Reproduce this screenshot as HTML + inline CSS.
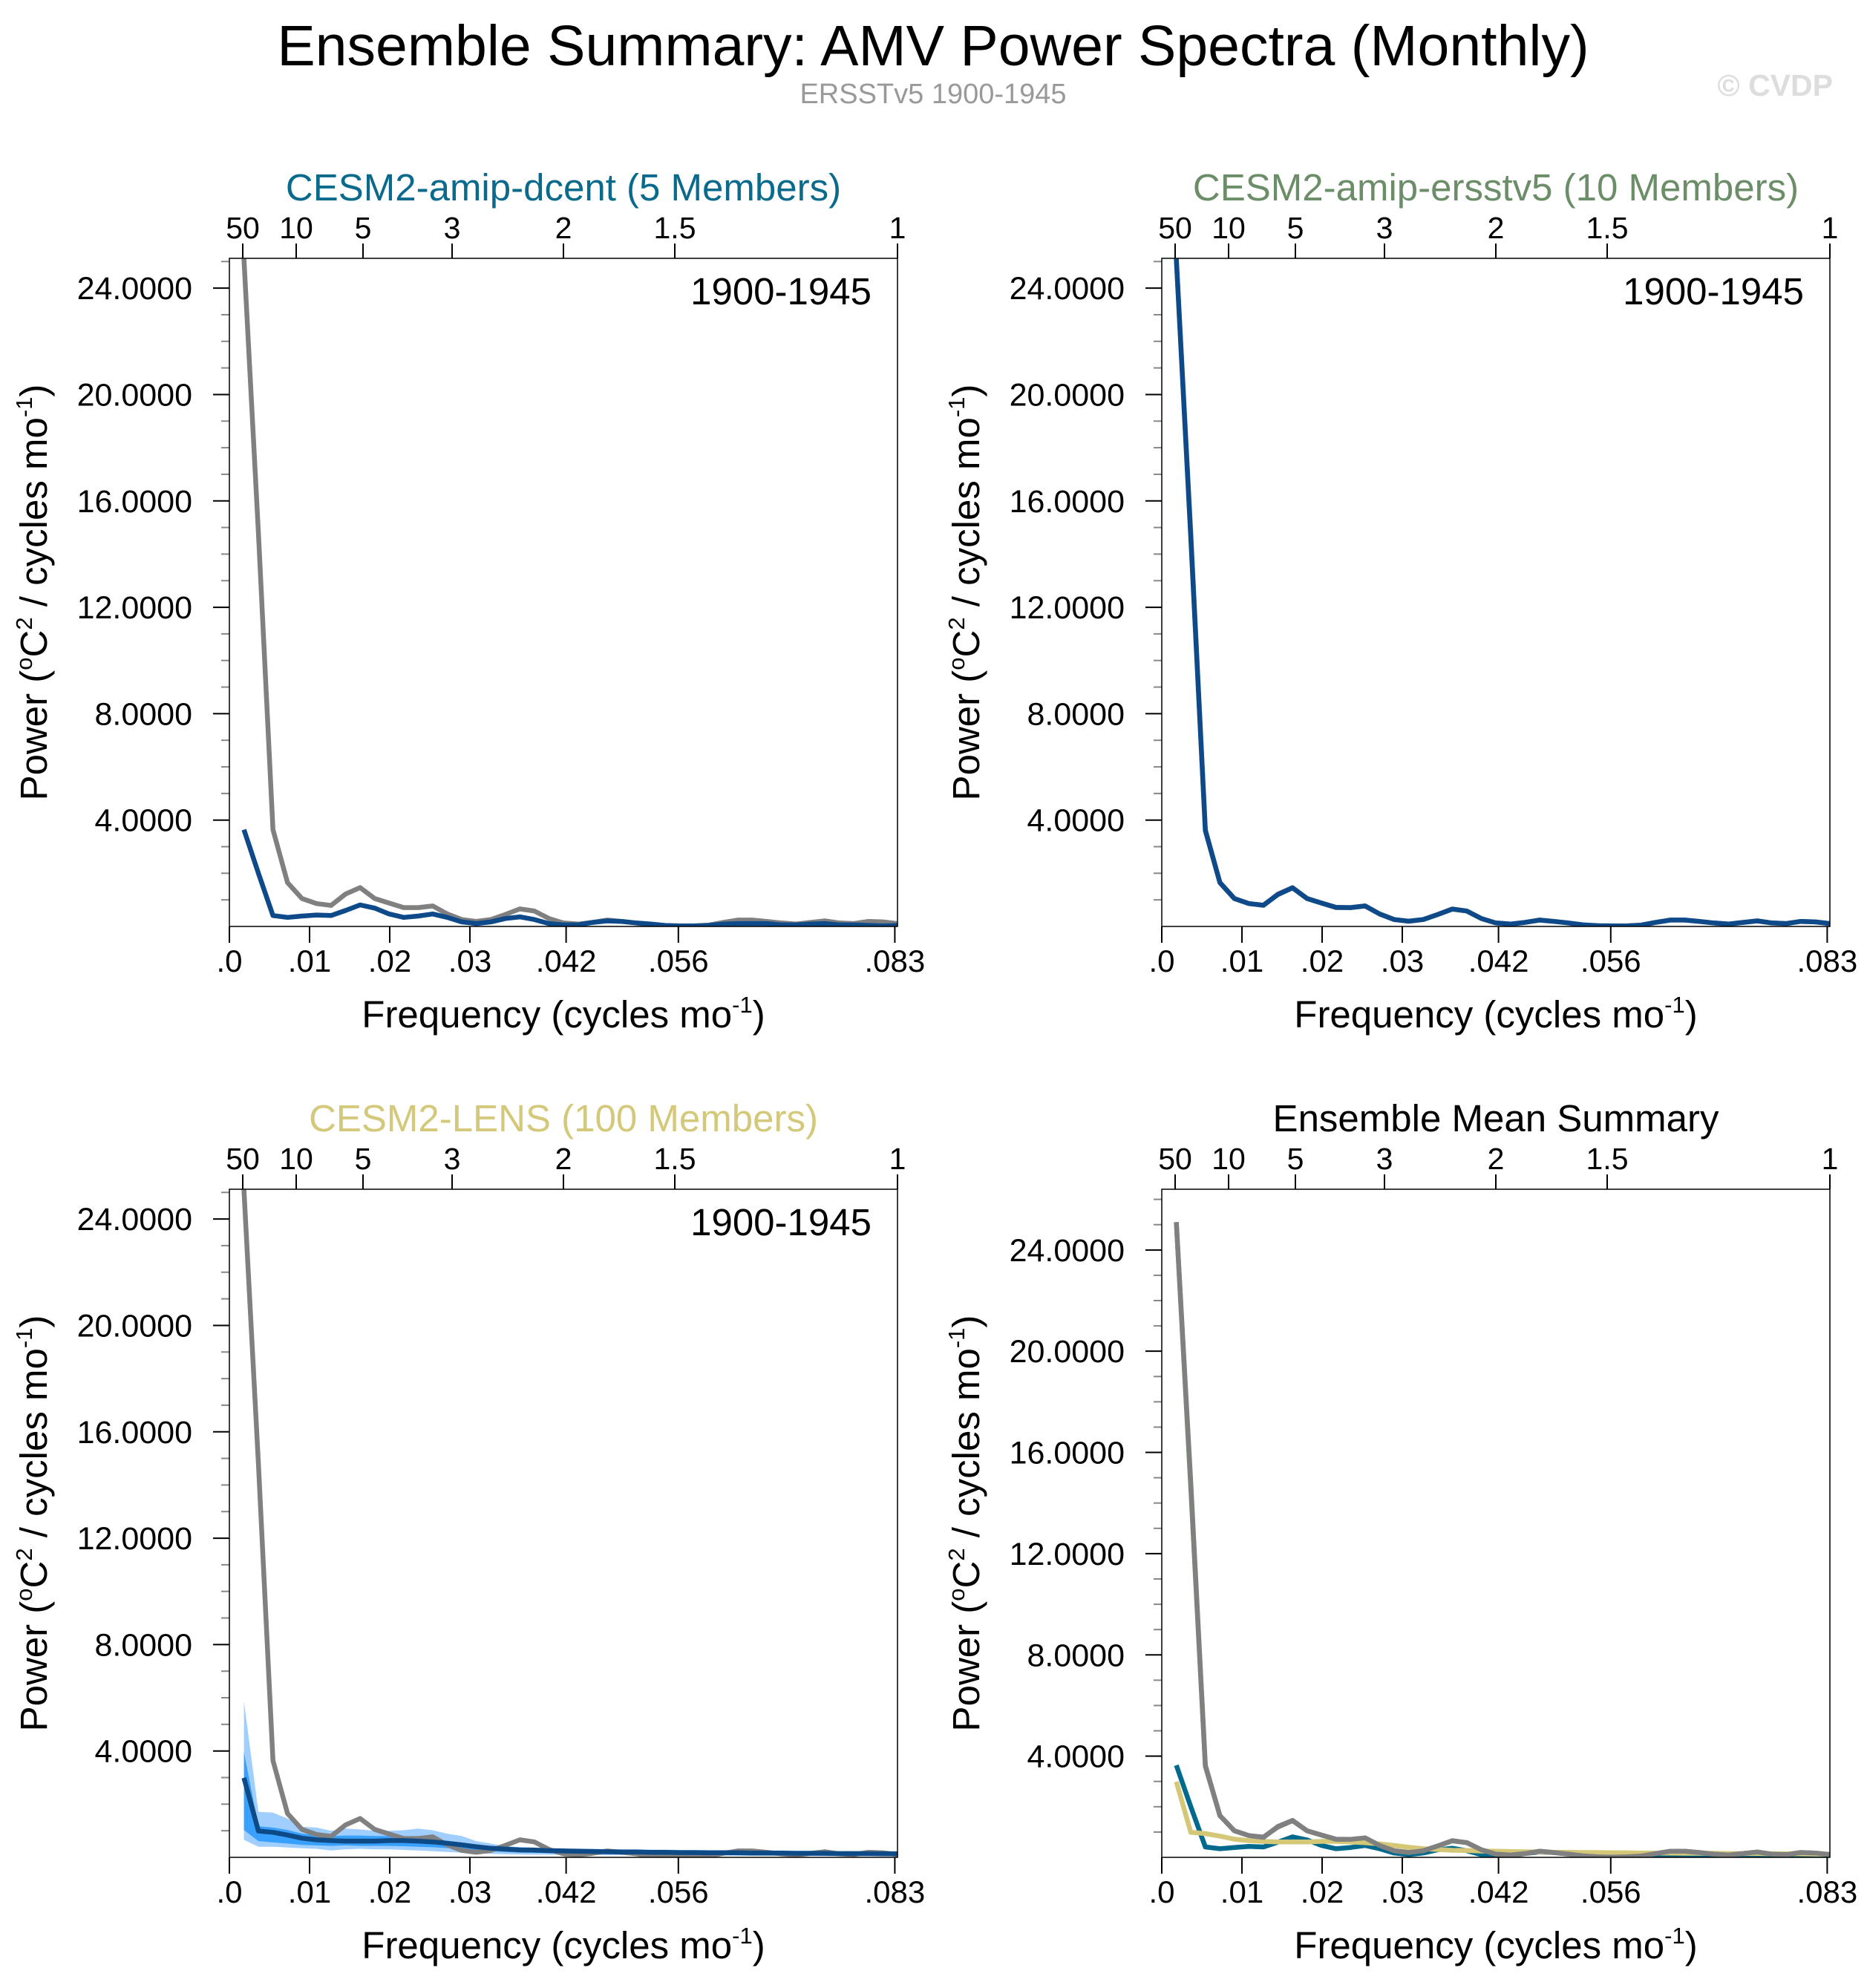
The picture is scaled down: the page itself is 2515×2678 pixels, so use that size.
<!DOCTYPE html>
<html><head><meta charset="utf-8"><style>
html,body{margin:0;padding:0;background:#fff}
svg{display:block;font-family:"Liberation Sans",sans-serif}
</style></head><body>
<svg id="fig" width="2515" height="2678" viewBox="0 0 2515 2678" xmlns="http://www.w3.org/2000/svg">
<text x="1257" y="88" font-size="77" text-anchor="middle" fill="#000">Ensemble Summary: AMV Power Spectra (Monthly)</text>
<text x="1257" y="139" font-size="38" text-anchor="middle" fill="#999">ERSSTv5 1900-1945</text>
<text x="2469" y="129" font-size="41" text-anchor="end" fill="#ddd" font-weight="bold">© CVDP</text>
</svg>
<script>
// ---- data ----
const nFreq = 46; // frequencies k/552 cycles per month
const obsPower = [25.1,14.8,3.64,1.65,1.05,0.86,0.79,1.22,1.46,1.05,0.88,0.71,0.71,0.77,0.47,0.26,0.19,0.26,0.45,0.66,0.58,0.30,0.13,0.09,0.15,0.24,0.19,0.13,0.06,0.02,0.01,0.02,0.05,0.15,0.24,0.24,0.19,0.13,0.09,0.15,0.21,0.13,0.11,0.19,0.17,0.11];
const dcentPower = [3.64,2.0,0.41,0.34,0.39,0.43,0.41,0.60,0.81,0.69,0.47,0.34,0.39,0.47,0.34,0.17,0.11,0.17,0.30,0.36,0.26,0.11,0.06,0.06,0.15,0.21,0.19,0.13,0.09,0.04,0.02,0.02,0.04,0.09,0.11,0.11,0.11,0.06,0.06,0.09,0.11,0.06,0.06,0.04,0.02,0.04];
const ersstPower = [25.1,14.6,3.6,1.65,1.05,0.86,0.8,1.2,1.45,1.05,0.88,0.72,0.71,0.77,0.47,0.26,0.2,0.26,0.45,0.65,0.58,0.3,0.13,0.09,0.15,0.24,0.19,0.13,0.06,0.03,0.02,0.02,0.05,0.15,0.24,0.24,0.19,0.13,0.09,0.15,0.21,0.13,0.11,0.19,0.17,0.11];
const lensMean = [2.99,0.99,0.94,0.84,0.72,0.66,0.63,0.61,0.61,0.61,0.63,0.63,0.61,0.58,0.53,0.47,0.40,0.34,0.31,0.28,0.27,0.25,0.24,0.23,0.22,0.21,0.2,0.2,0.19,0.19,0.18,0.18,0.17,0.17,0.17,0.16,0.16,0.16,0.15,0.15,0.15,0.14,0.14,0.14,0.13,0.13];
const lensP95 = [5.87,1.71,1.68,1.46,1.15,1.12,1.0,1.08,1.05,1.0,1.0,1.02,1.08,1.02,0.89,0.8,0.61,0.52,0.42,0.39,0.37,0.35,0.34,0.33,0.32,0.31,0.3,0.3,0.29,0.29,0.28,0.28,0.27,0.27,0.27,0.26,0.26,0.26,0.25,0.25,0.25,0.24,0.24,0.24,0.23,0.23];
const lensP5 = [0.66,0.40,0.40,0.37,0.34,0.32,0.26,0.30,0.32,0.30,0.30,0.28,0.26,0.23,0.20,0.18,0.15,0.13,0.12,0.11,0.1,0.1,0.09,0.09,0.09,0.08,0.08,0.08,0.08,0.07,0.07,0.07,0.07,0.07,0.06,0.06,0.06,0.06,0.06,0.06,0.05,0.05,0.05,0.05,0.05,0.05];
const lensP75 = [3.96,1.17,1.12,1.03,0.89,0.84,0.80,0.82,0.82,0.80,0.80,0.78,0.75,0.70,0.61,0.56,0.47,0.40,0.34,0.32,0.31,0.3,0.29,0.28,0.27,0.26,0.25,0.25,0.24,0.24,0.23,0.23,0.22,0.22,0.22,0.21,0.21,0.21,0.2,0.2,0.2,0.19,0.19,0.19,0.18,0.18];
const lensP25 = [1.03,0.61,0.56,0.52,0.47,0.45,0.43,0.45,0.43,0.43,0.43,0.42,0.40,0.38,0.35,0.31,0.27,0.23,0.2,0.18,0.17,0.16,0.15,0.15,0.14,0.14,0.13,0.13,0.12,0.12,0.12,0.11,0.11,0.11,0.1,0.1,0.1,0.1,0.1,0.09,0.09,0.09,0.09,0.09,0.09,0.09];
const yTickValues = [4,8,12,16,20,24];
const yTickLabels = ["4.0000","8.0000","12.0000","16.0000","20.0000","24.0000"];
const xTickValues = [0,0.01,0.02,0.03,0.042,0.056,0.083];
const xTickLabels = [".0",".01",".02",".03",".042",".056",".083"];
const periodValues = [50,10,5,3,2,1.5,1];
const periodLabels = ["50","10","5","3","2","1.5","1"];

const NS="http://www.w3.org/2000/svg";
const svg=document.getElementById('fig');
function mk(tag,attrs,parent){const e=document.createElementNS(NS,tag);for(const k in attrs)e.setAttribute(k,attrs[k]);(parent||svg).appendChild(e);return e;}
const freqs=[];for(let k=1;k<=nFreq;k++)freqs.push(k/552);
let clipId=0;
function panel(px,py,ymax,title,titleColor,name,drawFn,showPeriod){
  const W=900,H=900;
  const g=mk('g',{});
  
  
  const xs=f=>px+f/(1/12)*W;
  const ys=v=>py+H-v/ymax*H;
  clipId++;
  const cp=mk('clipPath',{id:'c'+clipId},g);mk('rect',{x:px,y:py,width:W,height:H},cp);
  const t=mk('text',{x:px+W/2,y:py-78,'font-size':51,'text-anchor':'middle',fill:titleColor},g);t.textContent=title;
  
  
  for(let v=1;v<ymax;v+=1){const y=ys(v);const major=v%4===0;mk('line',{x1:px-(major?22:11),x2:px,y1:y,y2:y,stroke:major?'#000':'#888','stroke-width':2},g);}
  yTickValues.forEach((v,i)=>{const tt=mk('text',{x:px-50,y:ys(v)+15,'font-size':43,'text-anchor':'end'},g);tt.textContent=yTickLabels[i];
    
    });
  xTickValues.forEach((v,i)=>{const x=xs(v);mk('line',{x1:x,x2:x,y1:py+H,y2:py+H+22,stroke:'#000','stroke-width':2},g);
    const tt=mk('text',{x:x,y:py+H+61,'font-size':42,'text-anchor':'middle'},g);tt.textContent=xTickLabels[i];
    
    });
  periodValues.forEach((p,i)=>{const x=xs(1/(12*p));mk('line',{x1:x,x2:x,y1:py-20,y2:py,stroke:'#000','stroke-width':2},g);
    const tt=mk('text',{x:x,y:py-27,'font-size':41,'text-anchor':'middle'},g);tt.textContent=periodLabels[i];
    
    });
  const pg=mk('g',{'clip-path':'url(#c'+clipId+')'},g);
  drawFn(pg,xs,ys);
  mk('rect',{x:px,y:py,width:W,height:H,fill:'none',stroke:'#000','stroke-width':1.5},g);
  const xt=mk('text',{x:px+W/2,y:py+H+136,'font-size':51,'text-anchor':'middle'},g);
  xt.innerHTML='Frequency (cycles mo<tspan dy="-20" font-size="31">-1</tspan><tspan dy="20">)</tspan>';
  
  
  const cy=py+H/2,cx=px-246;
  const yt=mk('text',{x:cx,y:cy,'font-size':51,'text-anchor':'middle',transform:`rotate(-90 ${cx} ${cy})`},g);
  yt.innerHTML='Power (<tspan dy="-20" font-size="31">o</tspan><tspan dy="20">C</tspan><tspan dy="-20" font-size="31">2</tspan><tspan dy="20"> / cycles mo</tspan><tspan dy="-20" font-size="31">-1</tspan><tspan dy="20">)</tspan>';
  
  
  if(showPeriod){const lt=mk('text',{x:px+W-35,y:py+62,'font-size':51,'text-anchor':'end'},g);lt.textContent='1900-1945';
    
    }
}
function line(g,xs,ys,vals,color,name){
  const d=vals.map((v,i)=>(i?'L':'M')+xs(freqs[i]).toFixed(1)+','+ys(v).toFixed(1)).join(' ');
  const p=mk('path',{d:d,fill:'none',stroke:color,'stroke-width':6.5,'stroke-linejoin':'round'},g);
  
  
}
function band(g,xs,ys,lo,hi,color,name){
  let d=hi.map((v,i)=>(i?'L':'M')+xs(freqs[i]).toFixed(1)+','+ys(v).toFixed(1)).join(' ');
  for(let i=lo.length-1;i>=0;i--)d+=' L'+xs(freqs[i]).toFixed(1)+','+ys(lo[i]).toFixed(1);
  const p=mk('path',{d:d+' Z',fill:color,stroke:'none'},g);
  
  
}
panel(309,348,25.12,'CESM2-amip-dcent (5 Members)','#0a6a8c','panel-amip-dcent',(g,xs,ys)=>{
  line(g,xs,ys,obsPower,'#808080','obs-line');line(g,xs,ys,dcentPower,'#0e4a8a','dcent-mean-line');},true);
panel(1565,348,25.12,'CESM2-amip-ersstv5 (10 Members)','#6b8e68','panel-amip-ersstv5',(g,xs,ys)=>{
  line(g,xs,ys,obsPower,'#808080','obs-line');line(g,xs,ys,ersstPower,'#0e4a8a','ersstv5-mean-line');},true);
panel(309,1602,25.12,'CESM2-LENS (100 Members)','#d4c87a','panel-lens',(g,xs,ys)=>{
  band(g,xs,ys,lensP5,lensP95,'#a0cfff','lens-5-95-band');band(g,xs,ys,lensP25,lensP75,'#38a0ff','lens-25-75-band');
  line(g,xs,ys,obsPower,'#808080','obs-line');line(g,xs,ys,lensMean,'#0e4a86','lens-mean-line');},true);
panel(1565,1602,26.4,'Ensemble Mean Summary','#000','panel-summary',(g,xs,ys)=>{
  line(g,xs,ys,dcentPower,'#006a8e','dcent-mean-line');line(g,xs,ys,ersstPower,'#6b8e5a','ersstv5-mean-line');
  line(g,xs,ys,lensMean,'#d4c878','lens-mean-line');line(g,xs,ys,obsPower,'#808080','obs-line');},false);
</script>
</body></html>
